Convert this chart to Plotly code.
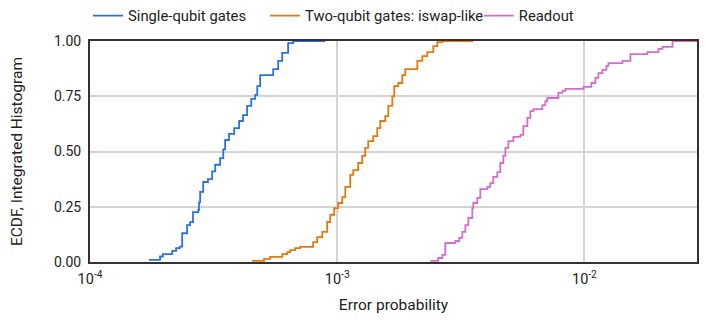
import plotly.graph_objects as go

# ECDF step breakpoints (error probability, cumulative fraction)
single_x = [1.73e-4, 1.92e-4, 1.97e-4, 2.15e-4, 2.23e-4, 2.31e-4, 2.36e-4, 2.47e-4, 2.54e-4,
            2.61e-4, 2.74e-4, 2.76e-4, 2.79e-4, 2.87e-4, 3.00e-4, 3.12e-4, 3.21e-4, 3.36e-4,
            3.46e-4, 3.52e-4, 3.65e-4, 3.83e-4, 4.01e-4, 4.16e-4, 4.32e-4, 4.49e-4, 4.66e-4,
            4.75e-4, 4.88e-4, 5.51e-4, 5.77e-4, 5.99e-4, 6.33e-4, 6.63e-4, 8.94e-4]
single_y = [0.01, 0.025, 0.036, 0.05, 0.063, 0.07, 0.13, 0.167, 0.18,
            0.226, 0.235, 0.27, 0.317, 0.362, 0.375, 0.41, 0.44, 0.47,
            0.51, 0.552, 0.58, 0.606, 0.638, 0.665, 0.706, 0.738, 0.756,
            0.796, 0.846, 0.873, 0.91, 0.946, 0.99, 1.0, 1.0]

twoq_x = [4.53e-4, 5.06e-4, 5.35e-4, 5.99e-4, 6.28e-4, 6.45e-4, 6.76e-4, 7.08e-4, 7.99e-4,
          8.30e-4, 8.70e-4, 9.11e-4, 9.37e-4, 9.72e-4, 1.009e-3, 1.048e-3, 1.078e-3, 1.129e-3,
          1.161e-3, 1.216e-3, 1.262e-3, 1.298e-3, 1.335e-3, 1.399e-3, 1.452e-3, 1.493e-3,
          1.564e-3, 1.609e-3, 1.670e-3, 1.701e-3, 1.766e-3, 1.833e-3, 1.885e-3, 2.109e-3,
          2.209e-3, 2.314e-3, 2.447e-3, 2.541e-3, 2.662e-3, 3.553e-3]
twoq_y = [0.005, 0.014, 0.023, 0.036, 0.045, 0.054, 0.063, 0.068, 0.09,
          0.113, 0.136, 0.181, 0.213, 0.244, 0.267, 0.294, 0.34, 0.394,
          0.416, 0.448, 0.48, 0.516, 0.547, 0.57, 0.606, 0.638,
          0.66, 0.706, 0.75, 0.796, 0.81, 0.846, 0.873, 0.91,
          0.932, 0.95, 0.977, 0.995, 1.0, 1.0]

readout_x = [2.38e-3, 2.564e-3, 2.662e-3, 2.737e-3, 3.004e-3, 3.118e-3, 3.207e-3, 3.298e-3,
             3.392e-3, 3.52e-3, 3.553e-3, 3.688e-3, 3.793e-3, 4.05e-3, 4.163e-3, 4.28e-3,
             4.444e-3, 4.57e-3, 4.70e-3, 4.79e-3, 4.925e-3, 5.16e-3, 5.51e-3, 5.66e-3,
             5.88e-3, 6.045e-3, 6.216e-3, 6.76e-3, 6.95e-3, 7.08e-3, 7.85e-3, 8.145e-3,
             8.377e-3, 9.91e-3, 1.067e-2, 1.108e-2, 1.139e-2, 1.183e-2, 1.228e-2, 1.251e-2,
             1.425e-2, 1.535e-2, 1.799e-2, 1.994e-2, 2.07e-2, 2.272e-2, 2.868e-2]
readout_y = [0.005, 0.018, 0.032, 0.086, 0.095, 0.109, 0.136, 0.167,
             0.199, 0.244, 0.267, 0.29, 0.33, 0.34, 0.357, 0.385,
             0.407, 0.448, 0.48, 0.516, 0.547, 0.566, 0.575, 0.615,
             0.652, 0.683, 0.692, 0.71, 0.728, 0.742, 0.765, 0.774,
             0.783, 0.792, 0.81, 0.833, 0.855, 0.869, 0.887, 0.9,
             0.91, 0.941, 0.95, 0.964, 0.973, 1.0, 1.0]

series_names = ["Single-qubit gates", "Two-qubit gates: iswap-like", "Readout"]
series_colors = ["#2a72e0", "#e8780e", "#d46ccd"]

x_tick_vals = [1e-4, 1e-3, 1e-2]
x_tick_text = ["10<sup>-4</sup>", "10<sup>-3</sup>", "10<sup>-2</sup>"]
y_tick_vals = [0, 0.25, 0.5, 0.75, 1.0]
y_tick_text = ["0.00", "0.25", "0.50", "0.75", "1.00"]

legend_ids = ["legend", "legend2", "legend3"]
legend_x = [-0.0033, 0.2883, 0.6406]

fig = go.Figure()
for name, xs, ys, col, lg in zip(series_names, [single_x, twoq_x, readout_x],
                                 [single_y, twoq_y, readout_y], series_colors, legend_ids):
    fig.add_trace(go.Scatter(x=xs, y=ys, mode="lines", name=name, legend=lg,
                             line=dict(color=col, width=1.8, shape="hv")))

legend_common = dict(orientation="h", xanchor="left", yref="paper", y=1.113, yanchor="middle",
                     font=dict(size=14.8, color="#222"), bgcolor="rgba(0,0,0,0)")

fig.update_layout(
    width=699, height=312,
    margin=dict(l=82, r=10, t=33, b=58, autoexpand=False),
    paper_bgcolor="white", plot_bgcolor="white",
    font=dict(family="Roboto, Arial, sans-serif", size=13, color="#222"),
    showlegend=True,
    legend=dict(x=legend_x[0], **legend_common),
    legend2=dict(x=legend_x[1], **legend_common),
    legend3=dict(x=legend_x[2], **legend_common),
)
fig.update_xaxes(type="log", range=[-4, -1.5445], automargin=False,
                 tickvals=x_tick_vals, ticktext=x_tick_text,
                 showgrid=True, gridcolor="#d4d4d4", gridwidth=1.5,
                 showline=True, linecolor="#333", linewidth=2, mirror=True,
                 ticks="", tickfont=dict(size=14.5, color="#222"), ticklabelstandoff=3,
                 title=dict(text="Error probability", font=dict(size=15.5, color="#222"), standoff=12),
                 zeroline=False)
fig.update_yaxes(range=[0, 1], automargin=False,
                 tickvals=y_tick_vals, ticktext=y_tick_text,
                 showgrid=True, gridcolor="#d4d4d4", gridwidth=1.5,
                 showline=True, linecolor="#333", linewidth=2, mirror=True,
                 ticks="", tickfont=dict(size=14, color="#222"), ticklabelstandoff=4,
                 title=dict(text="ECDF, Integrated Histogram", font=dict(size=15.5, color="#222"), standoff=29),
                 zeroline=False)

fig.write_html("out.html")
